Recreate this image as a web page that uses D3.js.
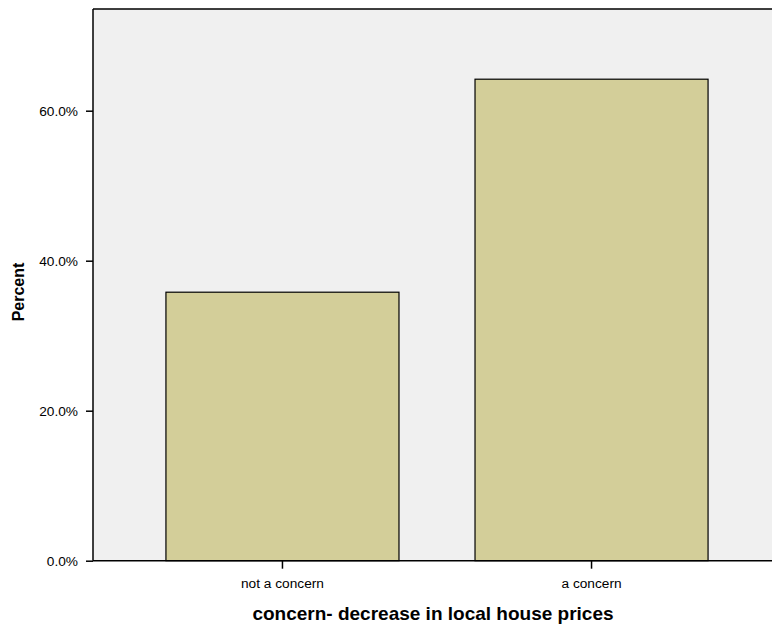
<!DOCTYPE html>
<html><head><meta charset="utf-8">
<script src="https://cdn.jsdelivr.net/npm/d3@7"></script>
<style>body{margin:0;background:#fff}svg{display:block}text{font-family:"Liberation Sans",Arial,sans-serif;fill:#000}</style>
</head><body>
<script>
const categories = ["not a concern", "a concern"];
const percents = [35.8, 64.2];
const yTicks = [0, 20, 40, 60];
const xTitle = "concern- decrease in local house prices";
const yTitle = "Percent";

const W = 772, H = 630;
const mLeft = 93, mTop = 9, mBottom = 560.7, mRight = 781;
const svg = d3.select("body").append("svg").attr("width", W).attr("height", H);

const x = d3.scaleBand().domain(categories).range([mLeft, mRight]).paddingInner(0.246).paddingOuter(0.236);
const y = d3.scaleLinear().domain([0, 73.56]).range([mBottom, mTop]);

svg.append("rect").attr("x", mLeft).attr("y", mTop).attr("width", W - mLeft).attr("height", mBottom - mTop).attr("fill", "#f0f0f0");

svg.selectAll("rect.bar").data(percents).enter().append("rect")
  .attr("class", "bar")
  .attr("x", (d, i) => x(categories[i]))
  .attr("y", d => y(d))
  .attr("width", x.bandwidth())
  .attr("height", d => y(0) - y(d))
  .attr("fill", "#d3ce99").attr("stroke", "#000").attr("stroke-width", 1.2);

svg.append("line").attr("x1", mLeft).attr("x2", W).attr("y1", mTop).attr("y2", mTop).attr("stroke", "#000").attr("stroke-width", 1.5);

const yAxis = svg.append("g").attr("transform", `translate(${mLeft},0)`)
  .call(d3.axisLeft(y).tickValues(yTicks).tickFormat(d => d.toFixed(1) + "%").tickSize(7).tickSizeOuter(0));
yAxis.select(".domain").attr("d", `M0,${mTop}V${mBottom}`).attr("stroke-width", 1.5);
yAxis.selectAll(".tick line").attr("stroke-width", 1.5);
yAxis.selectAll("text").attr("font-size", 13.7).attr("x", -15);

const xAxis = svg.append("g").attr("transform", `translate(0,${mBottom})`)
  .call(d3.axisBottom(x).tickSize(8).tickSizeOuter(0));
xAxis.select(".domain").attr("d", `M${mLeft},0H${W}`).attr("stroke-width", 1.5);
xAxis.selectAll(".tick line").attr("stroke-width", 1.5);
xAxis.selectAll("text").attr("font-size", 13.7).attr("dy", null).attr("y", 27);

svg.append("text").attr("x", 433).attr("y", 620).attr("text-anchor", "middle")
  .attr("font-size", 19).attr("font-weight", "bold").text(xTitle);
svg.append("text").attr("transform", "translate(24,292) rotate(-90)").attr("text-anchor", "middle")
  .attr("font-size", 16).attr("font-weight", "bold").text(yTitle);
</script>
</body></html>
